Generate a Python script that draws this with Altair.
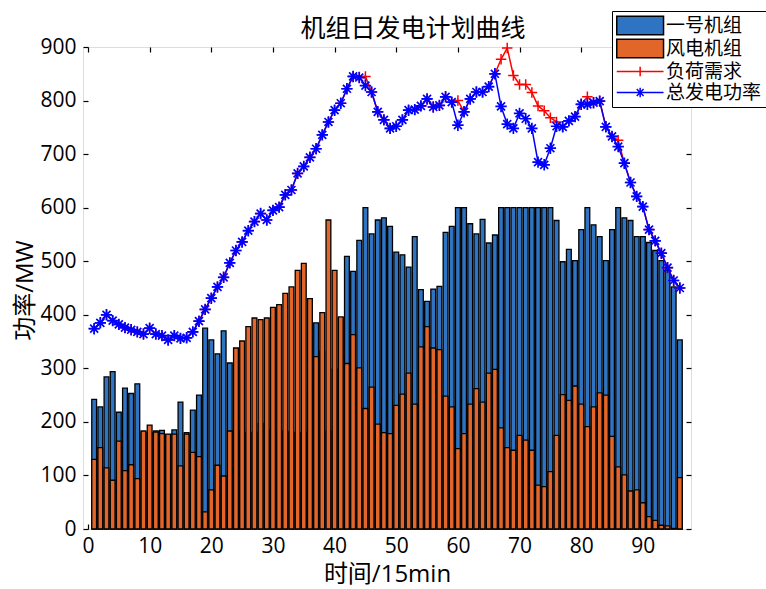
import altair as alt
import pandas as pd

# ---------------- data ----------------
t = list(range(1, 97))

unit1 = [242, 228, 284, 294, 218, 263, 253, 271, 181, 180,
         183, 184, 176, 185, 237, 180, 222, 250, 375, 353,
         327, 370, 310, 182, 184, 180, 181, 197, 184, 182,
         182, 183, 181, 180, 181, 264, 385, 332, 183, 298,
         394, 509, 481, 539, 600, 551, 577, 581, 565, 517,
         512, 489, 546, 447, 425, 448, 453, 554, 565, 600,
         600, 570, 551, 578, 534, 549, 600, 600, 600, 600,
         600, 600, 600, 600, 600, 576, 499, 522, 501, 559,
         600, 568, 546, 501, 559, 600, 581, 576, 546, 546,
         535, 520, 501, 483, 452, 353]

wind = [130, 152, 114, 91, 164, 109, 120, 94, 183, 194,
        181, 178, 177, 177, 118, 177, 143, 135, 32, 73,
        119, 99, 183, 338, 351, 378, 394, 391, 394, 414,
        419, 440, 452, 483, 496, 430, 322, 404, 577, 483,
        396, 309, 363, 301, 225, 265, 196, 180, 178, 231,
        252, 291, 233, 340, 378, 338, 335, 248, 228, 150,
        178, 233, 262, 237, 291, 298, 189, 152, 147, 175,
        166, 147, 82, 79, 107, 175, 251, 240, 267, 233,
        191, 228, 254, 250, 173, 116, 101, 71, 73, 49,
        23, 16, 7, 6, 1, 96]

total = [374, 385, 400, 389, 382, 376, 372, 368, 364, 375,
         364, 361, 353, 361, 356, 357, 368, 388, 410, 431,
         452, 470, 497, 520, 536, 557, 574, 589, 577, 595,
         601, 624, 633, 664, 677, 694, 710, 736, 760, 782,
         795, 822, 845, 843, 828, 816, 779, 764, 748, 752,
         764, 782, 783, 790, 803, 788, 791, 807, 797, 754,
         779, 803, 816, 816, 826, 850, 789, 756, 748, 776,
         766, 748, 685, 680, 711, 752, 751, 762, 770, 793,
         793, 796, 799, 751, 733, 714, 683, 647, 621, 602,
         559, 538, 515, 488, 464, 450]

load = [374, 385, 400, 389, 382, 376, 372, 368, 364, 375,
        364, 361, 353, 361, 356, 357, 368, 388, 410, 431,
        452, 470, 497, 520, 536, 557, 574, 589, 577, 595,
        601, 624, 633, 664, 677, 694, 710, 736, 760, 782,
        795, 822, 845, 843, 845, 816, 779, 764, 748, 752,
        764, 782, 783, 790, 803, 788, 791, 807, 797, 800,
        779, 803, 816, 816, 826, 850, 877, 898, 847, 830,
        830, 815, 790, 781, 768, 760, 751, 762, 770, 793,
        807, 796, 799, 751, 733, 726, 683, 647, 621, 602,
        559, 538, 515, 488, 464, 450]

series_names = ["一号机组", "风电机组", "负荷需求", "总发电功率"]
x_ticks = [0, 10, 20, 30, 40, 50, 60, 70, 80, 90]
y_ticks = [0, 100, 200, 300, 400, 500, 600, 700, 800, 900]

df = pd.DataFrame({"t": t, "unit1": unit1, "wind": wind, "total": total, "load": load})
leg_df = pd.DataFrame({"series": series_names, "t": [0] * 4, "v": [0] * 4})

# ---------------- style ----------------
W, H = 608, 482
BLUE_BAR = "#2E74C2"
ORANGE_BAR = "#E2652A"
RED = "#FF0000"
BLUE = "#0000FF"
NUM_FONT = "Open Sans"
CN_FONT = "Noto Sans CJK SC"
MIX_FONT = "Open Sans, Noto Sans CJK SC"

xs = alt.Scale(domain=[0, 97], nice=False, zero=False)
ys = alt.Scale(domain=[0, 900], nice=False)

ASTER = "M-1,0L1,0M0,-1L0,1M-0.7,-0.7L0.7,0.7M-0.7,0.7L0.7,-0.7"
PLUS = "M-1,0L1,0M0,-1L0,1"

LEG_BOX = "M-1,-0.95H3.8V0.95H-1Z"
LEG_PLUS = "M-1,0H3.8M1.4,-0.5V0.5M0.9,0H1.9"
LEG_ASTER = "M-1,0H3.8M1.4,-0.5V0.5M1.05,-0.35L1.75,0.35M1.05,0.35L1.75,-0.35"


def tick_axis(orient, offset, values):
    return alt.Axis(orient=orient, offset=offset, values=values, labels=False,
                    ticks=True, tickSize=5, tickWidth=1.2, tickColor="black",
                    domain=False, grid=False, title=None)


x_main = alt.Axis(orient="bottom", values=x_ticks, ticks=False, domain=False, grid=False,
                  labelFont=NUM_FONT, labelFontSize=21, labelColor="black", labelPadding=6,
                  title="时间/15min", titleFont=MIX_FONT, titleFontSize=24,
                  titleFontWeight="normal", titleColor="black", titlePadding=6)
y_main = alt.Axis(orient="left", values=y_ticks, ticks=False, domain=False, grid=False,
                  labelFont=NUM_FONT, labelFontSize=21, labelColor="black", labelPadding=7,
                  title="功率/MW", titleFont=MIX_FONT, titleFontSize=24,
                  titleFontWeight="normal", titleColor="black",
                  titleX=-46, titleY=H / 2 + 2, titleAlign="center", titleAngle=270,
                  titleBaseline="bottom")

bars_unit1 = alt.Chart(df).mark_bar(size=4.8, color=BLUE_BAR, stroke="black",
                                    strokeWidth=1.3).encode(
    x=alt.X("t:Q", scale=xs, axis=x_main),
    y=alt.Y("unit1:Q", scale=ys, axis=y_main),
)

bars_wind = alt.Chart(df).mark_bar(size=4.8, color=ORANGE_BAR, stroke="black",
                                   strokeWidth=1.3).encode(
    x=alt.X("t:Q", scale=xs, axis=tick_axis("top", -H, x_ticks)),
    y=alt.Y("wind:Q", scale=ys, axis=tick_axis("right", -W, y_ticks)),
)

load_line = alt.Chart(df).mark_line(color=RED, strokeWidth=1.5).encode(
    x=alt.X("t:Q", scale=xs, axis=tick_axis("bottom", -H, x_ticks)),
    y=alt.Y("load:Q", scale=ys, axis=tick_axis("left", -W, y_ticks)),
)
load_pts = alt.Chart(df).mark_point(shape=PLUS, size=110, filled=False, color=RED,
                                    strokeWidth=1.5, opacity=1).encode(
    x=alt.X("t:Q", scale=xs, axis=None),
    y=alt.Y("load:Q", scale=ys, axis=None),
)

total_line = alt.Chart(df).mark_line(color=BLUE, strokeWidth=1.5).encode(
    x=alt.X("t:Q", scale=xs, axis=None),
    y=alt.Y("total:Q", scale=ys, axis=None),
)
total_pts = alt.Chart(df).mark_point(shape=ASTER, size=130, filled=False, color=BLUE,
                                     strokeWidth=1.7, opacity=1).encode(
    x=alt.X("t:Q", scale=xs, axis=None),
    y=alt.Y("total:Q", scale=ys, axis=None),
)

legend_props = dict(orient="none", legendX=529, legendY=-36, title=None,
                    labelFont=CN_FONT, labelFontSize=19, labelColor="black", labelLimit=300,
                    symbolSize=380, symbolStrokeWidth=1.5, symbolOffset=0, symbolOpacity=1,
                    labelOffset=29, rowPadding=-2, padding=4,
                    strokeColor="black", fillColor="white")

legend_layer = alt.Chart(leg_df).transform_filter("false").mark_point(
    filled=True, opacity=1, strokeWidth=1.5).encode(
    x=alt.X("t:Q", scale=xs, axis=None),
    y=alt.Y("v:Q", scale=ys, axis=None),
    fill=alt.Fill("series:N", scale=alt.Scale(domain=series_names,
                  range=[BLUE_BAR, ORANGE_BAR, "transparent", "transparent"]),
                  legend=alt.Legend(**legend_props)),
    stroke=alt.Stroke("series:N", scale=alt.Scale(domain=series_names,
                      range=["black", "black", RED, BLUE]),
                      legend=alt.Legend(**legend_props)),
    shape=alt.Shape("series:N", scale=alt.Scale(domain=series_names,
                    range=[LEG_BOX, LEG_BOX, LEG_PLUS, LEG_ASTER]),
                    legend=alt.Legend(**legend_props)),
)

chart = alt.layer(
    bars_unit1, bars_wind, load_line, load_pts, total_line, total_pts, legend_layer
).resolve_axis(
    x="independent", y="independent"
).properties(
    width=W, height=H,
    title=alt.TitleParams("机组日发电计划曲线", font=CN_FONT, fontSize=25,
                          fontWeight="normal", color="black", anchor="middle",
                          frame="group", dx=26, offset=-31),
    padding={"left": 83, "top": 47, "right": 75, "bottom": 60},
    autosize=alt.AutoSizeParams(type="none"),
).configure_view(
    stroke="black", strokeWidth=1.2
).configure(background="white")

chart.save("out.html", embed_options={"renderer": "svg", "actions": False})
